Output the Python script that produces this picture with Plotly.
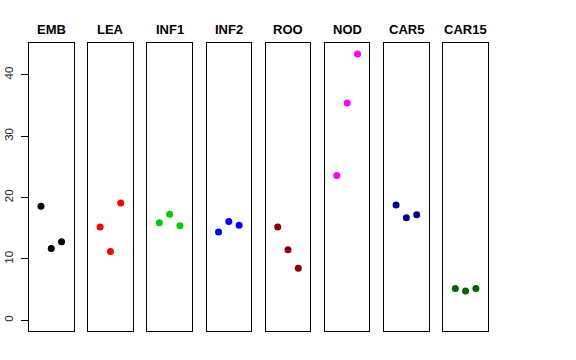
import plotly.graph_objects as go

categories = ["EMB", "LEA", "INF1", "INF2", "ROO", "NOD", "CAR5", "CAR15"]
colors = ["#000000", "#FF0000", "#00CD00", "#0000FF", "#8B0000", "#FF00FF", "#00008B", "#006400"]
x_pos = [1, 2, 3]
values = {
    "EMB": [18.6, 11.7, 12.8],
    "LEA": [15.2, 11.2, 19.1],
    "INF1": [15.9, 17.3, 15.4],
    "INF2": [14.4, 16.1, 15.5],
    "ROO": [15.2, 11.5, 8.5],
    "NOD": [23.6, 35.4, 43.4],
    "CAR5": [18.8, 16.7, 17.2],
    "CAR15": [5.2, 4.8, 5.2],
}
y_ticks = [0, 10, 20, 30, 40]

W, H = 576, 360
left0, step, width = 29.0, 59.19, 44.5
top_px, bot_px = 43.3, 331.0

ymax = max(max(v) for v in values.values())
ypad = 0.04 * ymax
yrange = [0 - ypad, ymax + ypad]

fig = go.Figure()
layout = {}
annotations = []
for i, cat in enumerate(categories):
    n = "" if i == 0 else str(i + 1)
    fig.add_trace(go.Scatter(
        x=x_pos, y=values[cat], mode="markers",
        marker=dict(color=colors[i], size=7),
        xaxis="x" + n, yaxis="y" + n, showlegend=False, hoverinfo="skip"))
    x0 = (left0 + i * step) / W
    x1 = (left0 + i * step + width) / W
    layout["xaxis" + n] = dict(
        domain=[x0, x1], range=[-0.16, 4.16], showgrid=False, zeroline=False,
        showticklabels=False, ticks="", showline=True, mirror=True,
        linecolor="black", linewidth=1, anchor="y" + n, fixedrange=True,
        automargin=False)
    yax = dict(
        domain=[1 - bot_px / H, 1 - top_px / H], range=yrange, showgrid=False,
        zeroline=False, showline=True, mirror=True, linecolor="black",
        linewidth=1, anchor="x" + n, fixedrange=True, automargin=False)
    if i == 0:
        yax.update(tickvals=y_ticks, ticks="outside", ticklen=7, tickwidth=1,
                   tickcolor="black", tickangle=-90, ticklabelstandoff=3,
                   tickfont=dict(family="Liberation Sans, Arial", size=11.5, color="#222"))
    else:
        yax.update(showticklabels=False, ticks="")
    layout["yaxis" + n] = yax
    annotations.append(dict(
        text="<b>" + cat + "</b>", x=(x0 + x1) / 2, y=1 - 29 / H,
        xref="paper", yref="paper", xanchor="center", yanchor="middle",
        showarrow=False, font=dict(family="Liberation Sans, Arial", size=13, color="black")))

fig.update_layout(
    width=W, height=H, margin=dict(l=0, r=0, t=0, b=0, autoexpand=False),
    paper_bgcolor="white", plot_bgcolor="white",
    annotations=annotations, **layout)

fig.write_html("out.html", config={"displayModeBar": False},
               post_script="document.body.style.margin='0';")
